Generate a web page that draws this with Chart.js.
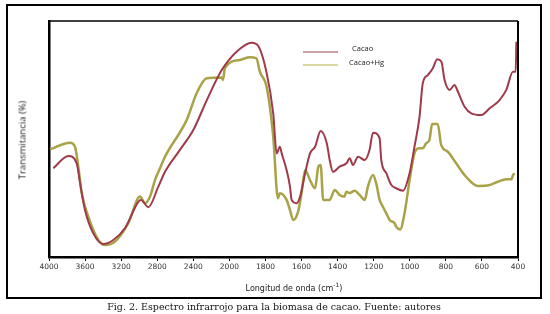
<!DOCTYPE html>
<html>
<head>
<meta charset="utf-8">
<script src="https://cdn.jsdelivr.net/npm/chart.js@4/dist/chart.umd.min.js"></script>
<style>
  html, body { margin: 0; padding: 0; background: #fff; }
  #wrap { position: relative; width: 550px; height: 314px; overflow: hidden; }
  #frame { position: absolute; left: 6px; top: 4px; width: 532px; height: 291px; border: 2px solid #000; }
  #chart { position: absolute; left: 0; top: 0; }
  .txt { position: absolute; white-space: nowrap; color: #222; }
  #ytitle { font: 9.5px 'Open Sans', sans-serif; left: 22px; top: 140px; transform: translate(-50%, -50%) rotate(-90deg); }
  #xtitle { font: 8px 'DejaVu Sans', sans-serif; left: 294px; top: 287px; transform: translate(-50%, -50%); }
  #xtitle sup { font-size: 6px; }
  #caption { font: 9.5px 'DejaVu Serif', serif; left: 274px; top: 306px; transform: translate(-50%, -50%); color: #111; }
  .legline { position: absolute; height: 1.5px; width: 35px; left: 303px; }
  .legtxt { font: 7.5px 'Open Sans', sans-serif; }
</style>
</head>
<body>
<div id="wrap">
  <div id="frame"></div>
  <canvas id="chart" width="550" height="314"></canvas>
  <div class="txt" id="ytitle">Transmitancia (%)</div>
  <div class="txt" id="xtitle">Longitud de onda (cm<sup>-1</sup>)</div>
  <div class="legline" style="top:51px;background:#c9a3a8"></div>
  <div class="txt legtxt" style="left:352px;top:43px">Cacao</div>
  <div class="legline" style="top:64px;background:#d9d6a2"></div>
  <div class="txt legtxt" style="left:349px;top:57px">Cacao+Hg</div>
  <div class="txt" id="caption">Fig. 2. Espectro infrarrojo para la biomasa de cacao. Fuente: autores</div>
</div>
<script>
(function () {
    'use strict';

    const RED = 'rgb(158, 58, 74)';
    const OLIVE = 'rgb(168, 162, 72)';

    // wavenumber tick labels (the axis is split at 2000 cm-1)
    const tickLabels = [4000, 3600, 3200, 2800, 2400, 2000, 1800, 1600, 1400, 1200, 1000, 800, 600, 400];

    // Cacao
    const cacaoWave = [3952, 3786, 3693, 3656, 3601, 3509, 3398, 3287, 3157, 3010, 2980, 2899, 2788, 2714,
        2550, 2400, 2250, 2085, 1960, 1876, 1840, 1793, 1757, 1738, 1720, 1710, 1683, 1664, 1655, 1627, 1608, 1580,
        1553, 1525, 1494, 1460, 1444, 1426, 1389, 1351, 1333, 1315, 1287, 1250, 1223, 1204, 1167, 1158,
        1130, 1102, 1075, 1038, 1001, 974, 946, 928, 900, 872, 848, 825, 807, 779, 752, 733, 696, 659,
        603, 557, 502, 465, 428, 413, 409];
    const cacaoT = [37.6, 42.8, 39.7, 31.4, 19.9, 10.0, 5.5, 7.2, 12.3, 23.4, 24.2, 21.1, 29.8, 36.1,
        45.3, 53.8, 66.5, 79.2, 87.0, 90.8, 89.4, 77.8, 60.9, 43.9, 46.7, 43.9, 36.9, 29.8, 24.2, 22.8, 25.6, 35.5,
        43.9, 46.7, 53.4, 48.2, 41.1, 36.1, 38.3, 39.7, 41.8, 39.0, 42.5, 41.1, 45.3, 52.7, 50.3, 41.1,
        35.5, 30.5, 29.1, 28.1, 35.5, 46.7, 59.4, 73.6, 77.1, 80.0, 83.8, 82.8, 75.0, 70.8, 72.9, 70.0, 63.7, 60.9,
        60.2, 63.0, 66.5, 70.8, 78.5, 78.5, 91.2];

    // Cacao+Hg
    const hgWave = [3989, 3767, 3712, 3675, 3637, 3564, 3453, 3379, 3268, 3121, 2991, 2936, 2880, 2825,
        2769, 2714, 2473, 2363, 2252, 2085, 2071, 2049, 1942, 1887, 1850, 1831, 1794, 1757, 1731, 1720,
        1683, 1664, 1646, 1619, 1600, 1580, 1553, 1525, 1507, 1494, 1480, 1444, 1416, 1389, 1361, 1352,
        1333, 1306, 1278, 1250, 1232, 1204, 1186, 1167, 1149, 1130, 1112, 1084, 1075, 1053, 1029, 1001,
        974, 950, 928, 909, 891, 876, 845, 826, 789, 743, 688, 623, 557, 511, 465, 437, 424, 419];
    const hgT = [45.6, 48.4, 46.7, 38.3, 27.0, 17.1, 7.2, 5.1, 6.5, 14.3, 25.6, 22.8, 25.6, 32.6,
        37.6, 42.5, 58.1, 69.4, 75.7, 76.1, 75.0, 80.2, 83.5, 84.6, 84.2, 78.5, 72.2, 51.0, 24.9, 27.0,
        24.2, 19.9, 15.7, 19.2, 27.0, 36.9, 32.6, 29.1, 38.3, 39.0, 24.2, 24.2, 28.4, 26.3, 25.6, 27.7,
        27.1, 28.1, 26.3, 24.2, 29.8, 34.7, 31.2, 24.2, 21.3, 18.5, 15.7, 14.3, 12.8, 11.7, 18.5, 32.6,
        43.9, 46.1, 46.1, 48.2, 49.6, 56.4, 56.4, 47.5, 44.6, 39.7, 34.0, 30.1, 30.5, 31.9, 32.9, 32.9, 35.2, 34.7];

    // wavenumber -> axis position (400 cm-1 steps above 2000, 200 cm-1 steps below)
    function toAxis(w) {
        return w >= 2000 ? (4000 - w) / 400 : 5 + (2000 - w) / 200;
    }

    function points(xs, ys) {
        return xs.map((w, i) => ({ x: toAxis(w), y: ys[i] }));
    }

    const framePlugin = {
        id: 'frame',
        afterDatasetsDraw(chart) {
            const a = chart.chartArea;
            const ctx = chart.ctx;
            ctx.save();
            ctx.strokeStyle = '#000';
            ctx.lineWidth = 1.5;
            ctx.beginPath();
            ctx.moveTo(a.left, a.top);
            ctx.lineTo(a.right, a.top);
            ctx.stroke();
            ctx.lineWidth = 2;
            ctx.beginPath();
            ctx.moveTo(a.right, a.top);
            ctx.lineTo(a.right, a.bottom);
            ctx.stroke();
            ctx.restore();
        }
    };

    new Chart(document.getElementById('chart'), {
        type: 'line',
        data: {
            datasets: [
                {
                    label: 'Cacao',
                    data: points(cacaoWave, cacaoT),
                    borderColor: RED,
                    borderWidth: 2,
                    pointRadius: 0,
                    cubicInterpolationMode: 'monotone',
                    fill: false,
                },
                {
                    label: 'Cacao+Hg',
                    data: points(hgWave, hgT),
                    borderColor: OLIVE,
                    borderWidth: 2.5,
                    pointRadius: 0,
                    cubicInterpolationMode: 'monotone',
                    fill: false,
                },
            ],
        },
        options: {
            responsive: false,
            animation: false,
            layout: { padding: { left: 0, top: 21, right: 32, bottom: 0 } },
            plugins: {
                legend: { display: false },
                tooltip: { enabled: false },
            },
            scales: {
                x: {
                    type: 'linear',
                    min: 0,
                    max: 13,
                    border: { display: true, color: '#000', width: 2.5 },
                    grid: { drawOnChartArea: false, drawTicks: true, tickLength: 4, color: '#000', lineWidth: 1 },
                    ticks: {
                        stepSize: 1,
                        autoSkip: false,
                        maxRotation: 0,
                        padding: 2,
                        color: '#333',
                        font: { family: 'DejaVu Sans', size: 7.5 },
                        callback: v => tickLabels[v],
                    },
                    afterFit: s => { s.height = 57; },
                },
                y: {
                    min: 0,
                    max: 100,
                    border: { display: true, color: '#000', width: 2.5 },
                    grid: { display: false },
                    ticks: { display: false },
                    afterFit: s => { s.width = 49; },
                },
            },
        },
        plugins: [framePlugin],
    });
})();
</script>
</body>
</html>
